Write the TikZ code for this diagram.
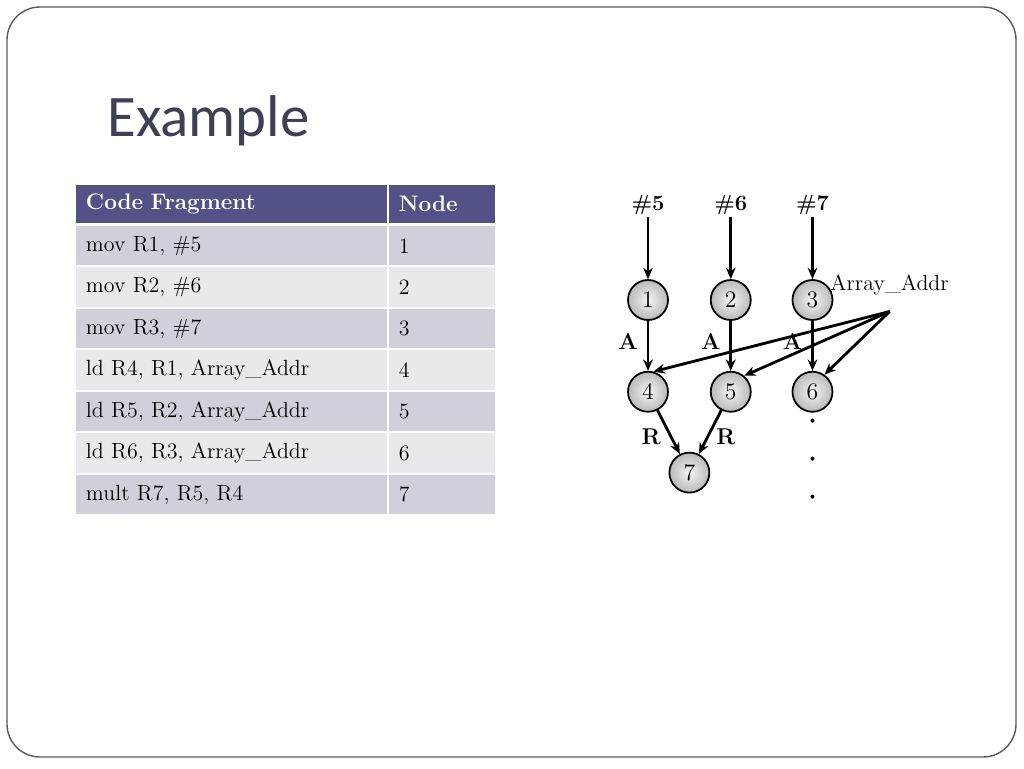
\documentclass[tikz,border=0pt]{standalone}
\usepackage{fontspec}
\usepackage{tikz}
\usetikzlibrary{shapes,arrows,arrows.meta,positioning}
\usepackage{xcolor}
\newfontfamily\titlefont{Carlito}
\definecolor{titlecolor}{RGB}{64,64,84}
\definecolor{headcolor}{RGB}{82,82,134}
\definecolor{darkrowcolor}{RGB}{207,208,218}
\definecolor{lightrowcolor}{RGB}{232,232,237}
\definecolor{framecolor}{RGB}{90,90,90}

\begin{document}
\begin{tikzpicture}[
    x=0.02cm, y=-0.02cm,
    every node/.style={font=\fontsize{12.5}{14}\selectfont},
    headcell/.style={rectangle, fill=headcolor, text=white, minimum height=0.76cm, inner ysep=0pt, inner xsep=0.2cm, outer sep=0pt, align=left, font=\fontsize{12.8}{14}\selectfont\bfseries},
    codecell/.style={rectangle, minimum height=0.79cm, inner ysep=0pt, inner xsep=0.2cm, outer sep=0pt, text width=5.82cm, align=left},
    numcell/.style={rectangle, minimum height=0.79cm, inner ysep=0pt, inner xsep=0.2cm, outer sep=0pt, text width=1.72cm, align=left},
    darkrow/.style={fill=darkrowcolor},
    lightrow/.style={fill=lightrowcolor},
    opnode/.style={circle, draw, line width=1pt, minimum size=0.8cm, inner sep=0pt, shading=radial, inner color=gray!8, outer color=gray!55, font=\fontsize{13.5}{14}\selectfont},
    constlabel/.style={font=\fontsize{12.5}{14}\selectfont\bfseries, inner sep=1pt},
    edgelabel/.style={font=\fontsize{13}{14}\selectfont\bfseries, inner sep=1pt},
    dotnode/.style={circle, fill, minimum size=0.08cm, inner sep=0pt, outer sep=0pt},
    arrow/.style={-{Stealth[length=6.5pt,width=5.5pt]}, line width=1.6pt}
]
\useasboundingbox (0,0) rectangle (1024,768);

% Slide frame and title
\draw[framecolor, line width=0.8pt, rounded corners=0.66cm] (7,7) rectangle (1016,757);
\node[anchor=base west, font=\titlefont\fontsize{33.5}{36}\selectfont, text=titlecolor, inner sep=0pt] (title) at (107,136) {Example};

% Table: header
\node[headcell, text width=5.82cm, anchor=north west] (hcode) at (76,185) {Code Fragment};
\node[headcell, text width=1.72cm, right=0.04cm of hcode] (hnum) {Node};

% Table: rows
\node[codecell, darkrow, below=0.06cm of hcode] (c1) {mov R1, \#5};
\node[numcell, darkrow, right=0.04cm of c1] (m1) {1};
\node[codecell, lightrow, below=0.04cm of c1] (c2) {mov R2, \#6};
\node[numcell, lightrow, right=0.04cm of c2] (m2) {2};
\node[codecell, darkrow, below=0.04cm of c2] (c3) {mov R3, \#7};
\node[numcell, darkrow, right=0.04cm of c3] (m3) {3};
\node[codecell, lightrow, below=0.04cm of c3] (c4) {ld R4, R1, Array\_Addr};
\node[numcell, lightrow, right=0.04cm of c4] (m4) {4};
\node[codecell, darkrow, below=0.04cm of c4] (c5) {ld R5, R2, Array\_Addr};
\node[numcell, darkrow, right=0.04cm of c5] (m5) {5};
\node[codecell, lightrow, below=0.04cm of c5] (c6) {ld R6, R3, Array\_Addr};
\node[numcell, lightrow, right=0.04cm of c6] (m6) {6};
\node[codecell, darkrow, below=0.04cm of c6] (c7) {mult R7, R5, R4};
\node[numcell, darkrow, right=0.04cm of c7] (m7) {7};

% Graph: mov nodes
\node[opnode] (n1) at (648,300) {1};
\node[opnode, right=0.82cm of n1] (n2) {2};
\node[opnode, right=0.80cm of n2] (n3) {3};

% Graph: ld nodes
\node[opnode, below=1.0cm of n1] (n4) {4};
\node[opnode, below=1.0cm of n2] (n5) {5};
\node[opnode, below=1.0cm of n3] (n6) {6};

% Graph: mult node
\path (n4) -- (n5) coordinate[midway] (mid45);
\node[opnode, below=1.2cm of mid45] (n7) {7};

% Constants
\node[constlabel, above=1.25cm of n1] (k5) {\#5};
\node[constlabel, above=1.25cm of n2] (k6) {\#6};
\node[constlabel, above=1.25cm of n3] (k7) {\#7};
\node[right=-0.06cm of n3.north east] (addr) {Array\_Addr};
\coordinate[below=0.2cm of addr.south] (src);

% Edges
\draw[arrow] (k5) -- (n1);
\draw[arrow] (k6) -- (n2);
\draw[arrow] (k7) -- (n3);
\draw[arrow] (n1) -- node[edgelabel, pos=0.42, left=4pt] {A} (n4);
\draw[arrow] (n2) -- node[edgelabel, pos=0.42, left=4pt] {A} (n5);
\draw[arrow] (n3) -- node[edgelabel, pos=0.42, left=4pt] {A} (n6);
\draw[arrow] (src) -- (n4.75);
\draw[arrow] (src) -- (n5.50);
\draw[arrow] (src) -- (n6.55);
\draw[arrow] (n4) -- node[edgelabel, pos=0.6, left=4pt] {R} (n7);
\draw[arrow] (n5) -- node[edgelabel, pos=0.6, right=3pt] {R} (n7);

% Continuation dots
\node[dotnode, below=0.12cm of n6] (d1) {};
\node[dotnode, below=0.68cm of d1] (d2) {};
\node[dotnode, below=0.68cm of d2] (d3) {};

\end{tikzpicture}
\end{document}
